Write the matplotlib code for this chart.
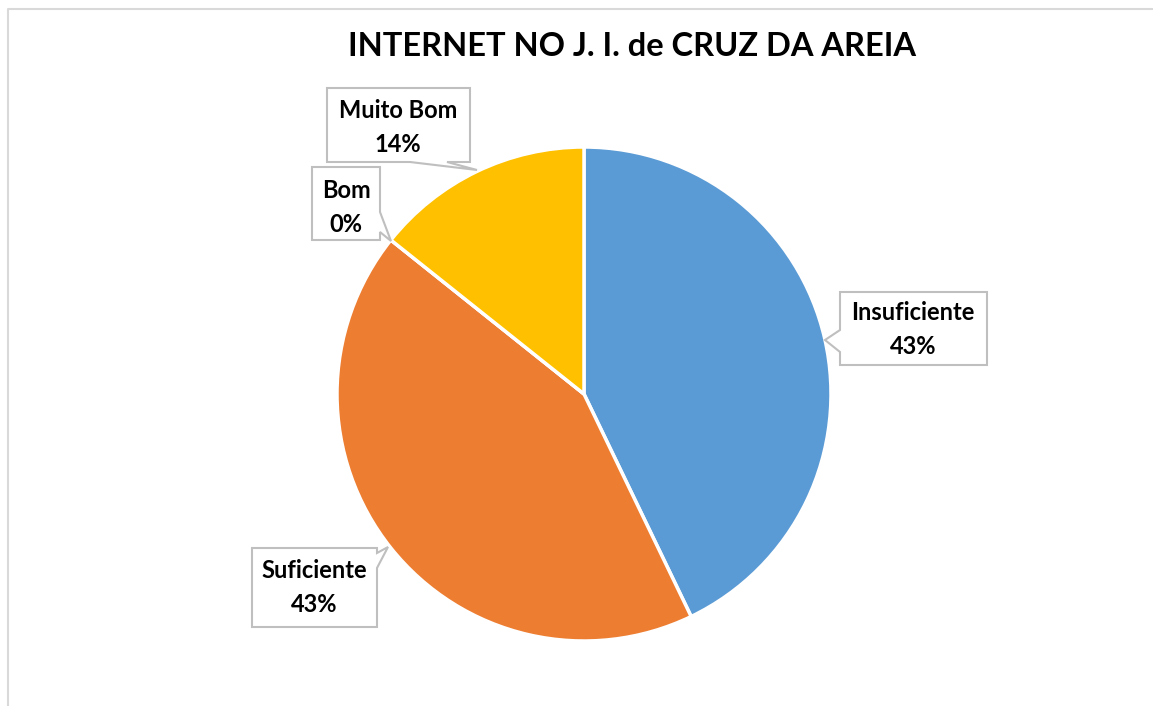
import matplotlib
matplotlib.use('Agg')
import matplotlib.pyplot as plt
from matplotlib.patches import Polygon

# --- DATA ---
categories = ['Insuficiente', 'Suficiente', 'Bom', 'Muito Bom']
values = [3, 3, 0, 1]
colors = ['#5B9BD5', '#ED7D31', '#A5A5A5', '#FFC000']
title = 'INTERNET NO J. I. de CRUZ DA AREIA'

W, H = 1153, 706
fig = plt.figure(figsize=(W / 100, H / 100), dpi=100)
fig.patch.set_facecolor('white')
ax = fig.add_axes([0, 0, 1, 1])

FONT = 'Lato'


def py(y):
    # pixel row (from top) -> axes y
    return H - y


# --- PIE ---
ax.pie(values, colors=colors, startangle=90, counterclock=False,
       center=(584, py(394)), radius=247, frame=True,
       wedgeprops=dict(edgecolor='white', linewidth=2.5))
ax.set_xlim(0, W)
ax.set_ylim(0, H)
ax.set_aspect('equal')
ax.axis('off')

# chart frame (left + top edges visible)
ax.plot([7.5, 7.5, W], [py(H), py(8.5), py(8.5)], color='#D9D9D9', lw=1.5, zorder=1)

ax.text(632, py(46), title, ha='center', va='center', fontsize=23.5,
        fontweight='bold', family=FONT, color='#000000')

# --- CALLOUT LABELS ---
total = sum(values)
callouts = {
    'Insuficiente': dict(box=[(840, 292), (987, 292), (987, 365), (840, 365),
                              (840, 352), (825, 340), (840, 330)],
                         txt=(913, 313)),
    'Suficiente': dict(box=[(252, 548), (377, 548), (377, 553), (388, 547),
                            (377, 568), (377, 627), (252, 627)],
                       txt=(314, 571)),
    'Bom': dict(box=[(312, 167), (380, 167), (380, 212), (391, 241),
                     (380, 232), (380, 240), (312, 240)],
                txt=(346, 190)),
    'Muito Bom': dict(box=[(327, 88), (470, 88), (470, 162), (447, 162),
                           (477, 170), (410, 162), (327, 162)],
                      txt=(398, 110)),
}

for cat, val in zip(categories, values):
    c = callouts[cat]
    pts = [(x, py(y)) for x, y in c['box']]
    ax.add_patch(Polygon(pts, closed=True, facecolor='white',
                         edgecolor='#BFBFBF', linewidth=1.5, zorder=3))
    tx, ty = c['txt']
    ax.text(tx, py(ty), cat, ha='center', va='center', fontsize=17,
            fontweight='bold', family=FONT, color='#000000', zorder=4)
    ax.text(tx, py(ty + 34), '{:.0f}%'.format(100 * val / total), ha='center',
            va='center', fontsize=17, fontweight='bold', family=FONT,
            color='#000000', zorder=4)

plt.savefig('out.png', dpi=100, facecolor='white')
